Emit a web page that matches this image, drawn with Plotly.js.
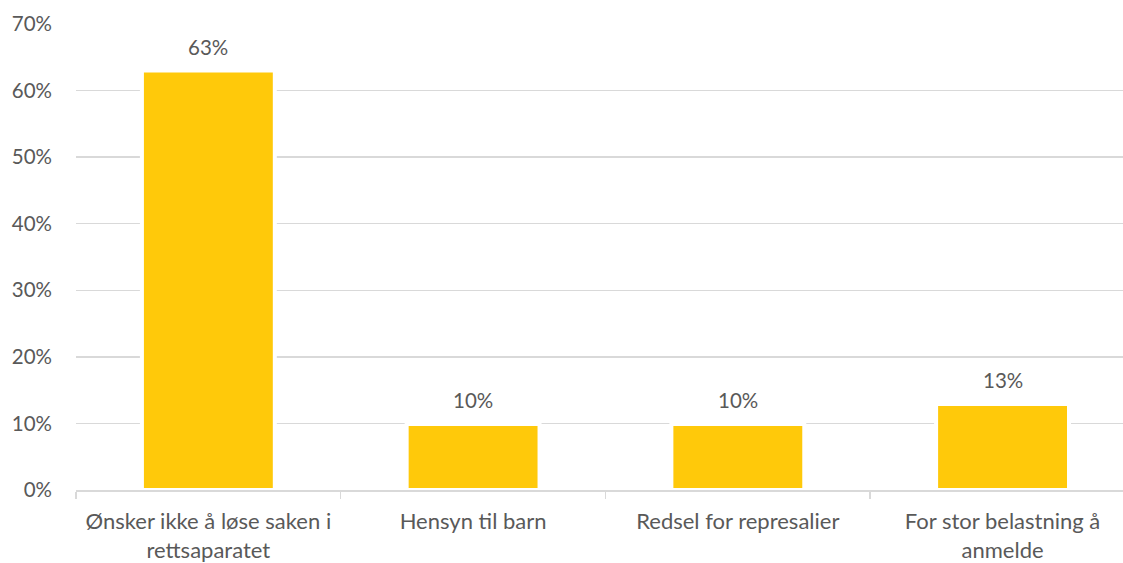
<!DOCTYPE html>
<html>
<head>
<meta charset="utf-8">
<script src="https://cdn.plot.ly/plotly-3.0.1.min.js"></script>
<style>html,body{margin:0;padding:0;background:#fff;}#chart{width:1123px;height:563px;}</style>
</head>
<body>
<div id="chart"></div>
<script>
const categories = ["Ønsker ikke å løse saken i<br>rettsaparatet", "Hensyn til barn", "Redsel for represalier", "For stor belastning å<br>anmelde"];
const values = [0.63, 0.099, 0.099, 0.129];
const yTickVals = [0, 0.1, 0.2, 0.3, 0.4, 0.5, 0.6, 0.7];

const FONT = "Lato, 'Open Sans', sans-serif";
const GREY = "#595959";

const trace = {
  type: "bar",
  x: categories,
  y: values,
  marker: {color: "#FFC90A", line: {color: "#FFFFFF", width: 4}},
  hoverinfo: "none"
};

const annotations = categories.map((c, i) => ({
  x: c, y: values[i], xref: "x", yref: "y",
  text: Math.round(values[i] * 100) + "%",
  showarrow: false, yanchor: "middle", yshift: 24,
  font: {family: FONT, size: 20.5, color: GREY}
}));

const layout = {
  width: 1123, height: 563,
  margin: {l: 76, r: 0, t: 24, b: 73, pad: 0},
  paper_bgcolor: "#fff", plot_bgcolor: "#fff",
  bargap: 0.498,
  showlegend: false,
  font: {family: FONT, size: 20, color: GREY},
  xaxis: {
    type: "category",
    range: [-0.5, 3.455],
    showline: true, linecolor: "#D9D9D9", linewidth: 1.5,
    ticks: "outside", tickson: "boundaries", ticklen: 7, tickcolor: "#D9D9D9", tickwidth: 1.5,
    showgrid: false,
    tickfont: {family: FONT, size: 22, color: GREY},
    ticklabelstandoff: 11
  },
  yaxis: {
    range: [0, 0.7],
    tickvals: yTickVals,
    tickformat: ".0%",
    showgrid: true, gridcolor: "#D9D9D9", gridwidth: 1.3,
    zeroline: false, showline: false, ticks: "",
    tickfont: {family: FONT, size: 20.5, color: GREY},
    ticklabelstandoff: 23
  },
  annotations: annotations
};

Plotly.newPlot("chart", [trace], layout, {staticPlot: true, displayModeBar: false});
</script>
</body>
</html>
